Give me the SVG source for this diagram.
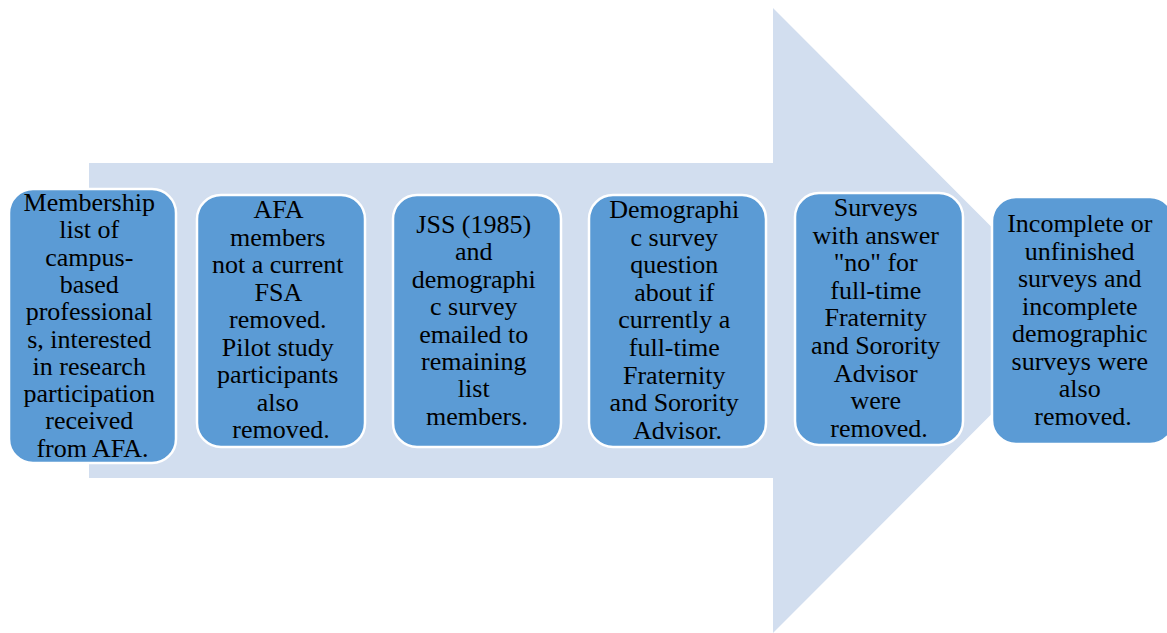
<svg xmlns="http://www.w3.org/2000/svg" width="1167" height="633" viewBox="0 0 1167 633">
  <style>
    .step { fill: #5B9BD5; stroke: #FFFFFF; stroke-width: 2.5; }
    .label { font-size: 26px; fill: #000000; text-anchor: middle; }
  </style>
  <rect width="1167" height="633" fill="#FFFFFF"/>

  <!-- Background block arrow -->
  <g id="arrow">
    <polygon points="89,163 773,163 773,8 1085,320.5 773,633 773,478 89,478" fill="#D2DEEF"/>
  </g>

  <g id="connectors"></g>

  <g id="step1">
    <rect class="step" x="9" y="189" width="167" height="274" rx="24"/>
    <text class="label" font-family="Liberation Serif">
      <tspan x="92.5" y="211">Membership</tspan>
      <tspan x="92.5" y="238.3">list of</tspan>
      <tspan x="92.5" y="265.6">campus-</tspan>
      <tspan x="92.5" y="292.9">based</tspan>
      <tspan x="92.5" y="320.2">professional</tspan>
      <tspan x="92.5" y="347.5">s, interested</tspan>
      <tspan x="92.5" y="374.8">in research</tspan>
      <tspan x="92.5" y="402.1">participation</tspan>
      <tspan x="92.5" y="429.4">received</tspan>
      <tspan x="92.5" y="456.7">from AFA.</tspan>
    </text>
  </g>

  <g id="step2">
    <rect class="step" x="197" y="195" width="168" height="252" rx="24"/>
    <text class="label" font-family="Liberation Serif">
      <tspan x="281" y="218">AFA</tspan>
      <tspan x="281" y="245.5">members</tspan>
      <tspan x="281" y="273">not a current</tspan>
      <tspan x="281" y="300.5">FSA</tspan>
      <tspan x="281" y="328">removed.</tspan>
      <tspan x="281" y="355.5">Pilot study</tspan>
      <tspan x="281" y="383">participants</tspan>
      <tspan x="281" y="410.5">also</tspan>
      <tspan x="281" y="438">removed.</tspan>
    </text>
  </g>

  <g id="step3">
    <rect class="step" x="393" y="195" width="168" height="252" rx="24"/>
    <text class="label" font-family="Liberation Serif">
      <tspan x="477" y="233">JSS (1985)</tspan>
      <tspan x="477" y="260.4">and</tspan>
      <tspan x="477" y="287.8">demographi</tspan>
      <tspan x="477" y="315.2">c survey</tspan>
      <tspan x="477" y="342.6">emailed to</tspan>
      <tspan x="477" y="370">remaining</tspan>
      <tspan x="477" y="397.4">list</tspan>
      <tspan x="477" y="424.8">members.</tspan>
    </text>
  </g>

  <g id="step4">
    <rect class="step" x="589" y="195" width="177" height="252" rx="24"/>
    <text class="label" font-family="Liberation Serif">
      <tspan x="677.5" y="218">Demographi</tspan>
      <tspan x="677.5" y="245.6">c survey</tspan>
      <tspan x="677.5" y="273.2">question</tspan>
      <tspan x="677.5" y="300.8">about if</tspan>
      <tspan x="677.5" y="328.4">currently a</tspan>
      <tspan x="677.5" y="356">full-time</tspan>
      <tspan x="677.5" y="383.6">Fraternity</tspan>
      <tspan x="677.5" y="411.2">and Sorority</tspan>
      <tspan x="677.5" y="438.8">Advisor.</tspan>
    </text>
  </g>

  <g id="step5">
    <rect class="step" x="795" y="193" width="168" height="252" rx="24"/>
    <text class="label" font-family="Liberation Serif">
      <tspan x="879" y="216">Surveys</tspan>
      <tspan x="879" y="243.6">with answer</tspan>
      <tspan x="879" y="271.2">"no" for</tspan>
      <tspan x="879" y="298.8">full-time</tspan>
      <tspan x="879" y="326.4">Fraternity</tspan>
      <tspan x="879" y="354">and Sorority</tspan>
      <tspan x="879" y="381.6">Advisor</tspan>
      <tspan x="879" y="409.2">were</tspan>
      <tspan x="879" y="436.8">removed.</tspan>
    </text>
  </g>

  <g id="step6">
    <rect class="step" x="992" y="197" width="182" height="247" rx="24"/>
    <text class="label" font-family="Liberation Serif">
      <tspan x="1083" y="232">Incomplete or</tspan>
      <tspan x="1083" y="259.5">unfinished</tspan>
      <tspan x="1083" y="287">surveys and</tspan>
      <tspan x="1083" y="314.5">incomplete</tspan>
      <tspan x="1083" y="342">demographic</tspan>
      <tspan x="1083" y="369.5">surveys were</tspan>
      <tspan x="1083" y="397">also</tspan>
      <tspan x="1083" y="424.5">removed.</tspan>
    </text>
  </g>
</svg>
